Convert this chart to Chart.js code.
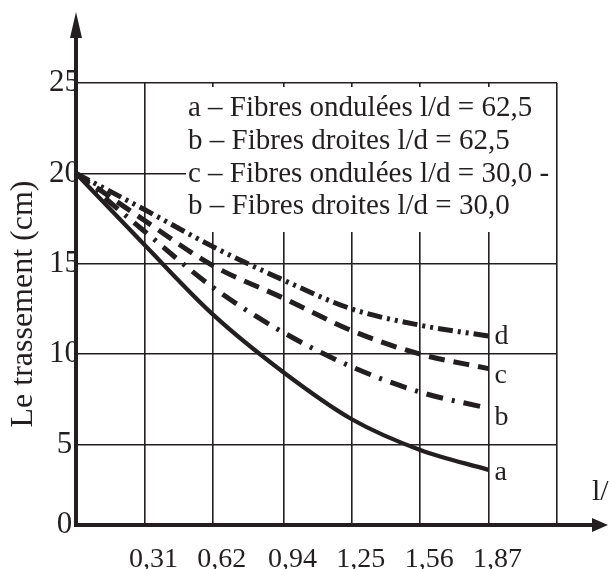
<!DOCTYPE html>
<html>
<head>
<meta charset="utf-8">
<script src="https://cdn.jsdelivr.net/npm/chart.js@4.4.1/dist/chart.umd.min.js"></script>
<style>
  html, body { margin: 0; padding: 0; background: #fff; }
  #wrap { width: 609px; height: 569px; }
</style>
</head>
<body>
<div id="wrap"><canvas id="settleChart" width="609" height="569"></canvas></div>
<script>
/* =========================
   DATA
========================= */

const lengthRatio = [0, 0.31, 0.62, 0.94, 1.25, 1.56, 1.87];

const curveA = [20, 16.05, 12.2, 9.0, 6.4, 4.7, 3.6];
const curveB = [20, 16.8, 13.7, 11.2, 9.3, 7.9, 7.0];
const curveC = [20, 17.4, 14.9, 13.1, 11.3, 10.0, 9.2];
const curveD = [20, 18.0, 15.95, 14.1, 12.5, 11.6, 11.0];

const legendLines = [
  "a – Fibres ondulées l/d = 62,5",
  "b – Fibres droites l/d = 62,5",
  "c – Fibres ondulées l/d = 30,0 -",
  "b – Fibres droites l/d = 30,0"
];
const curveTags = ["a", "b", "c", "d"];

const xTicks = [0.31, 0.62, 0.94, 1.25, 1.56, 1.87, 2.18];
const xTickLabels = ["0,31", "0,62", "0,94", "1,25", "1,56", "1,87", ""];
// the drawn x axis sits a little above zero in the original figure
const yTicks = [0.55, 5, 10, 15, 20, 25];
const yTickLabels = ["0", "5", "10", "15", "20", "25"];

/* =========================
   STYLE
========================= */

const INK = "#231f20";
const SERIF = "'Liberation Serif', 'Times New Roman', serif";
const tagDy = [10, 17, 14, 8];

Chart.defaults.font.family = SERIF;
Chart.defaults.color = INK;

function series(values) {
  return lengthRatio.map((x, i) => ({ x: x, y: values[i] }));
}

/* =========================
   DECORATION PLUGIN
========================= */

const figureDecor = {
  id: "figureDecor",
  beforeDatasetsDraw(chart) {
    const { ctx, chartArea } = chart;
    const boxLeft = chartArea.left + 110;
    const boxTop = chartArea.top + 4;
    ctx.save();
    ctx.fillStyle = "#fff";
    ctx.fillRect(boxLeft, boxTop, chartArea.right - 1 - boxLeft, 145);
    ctx.fillStyle = INK;
    ctx.font = "29px " + SERIF;
    ctx.textAlign = "left";
    ctx.textBaseline = "alphabetic";
    legendLines.forEach((t, i) => {
      ctx.fillText(t, boxLeft + 2, chartArea.top + 33 + i * 32.8);
    });
    ctx.restore();
  },
  afterDatasetsDraw(chart) {
    const { ctx } = chart;
    ctx.save();
    ctx.fillStyle = INK;
    ctx.font = "28px " + SERIF;
    ctx.textAlign = "left";
    ctx.textBaseline = "alphabetic";
    chart.data.datasets.forEach((ds, i) => {
      const pts = chart.getDatasetMeta(i).data;
      const p = pts[pts.length - 1];
      ctx.fillText(curveTags[i], p.x + 6, p.y + tagDy[i]);
    });
    ctx.restore();
  },
  afterDraw(chart) {
    const { ctx, chartArea, width } = chart;
    const ax = chartArea.left;
    const ay = chartArea.bottom;
    ctx.save();
    ctx.strokeStyle = INK;
    ctx.fillStyle = INK;
    ctx.lineWidth = 4;
    // y axis up to the arrow
    ctx.beginPath();
    ctx.moveTo(ax, chartArea.top + 1);
    ctx.lineTo(ax, 34);
    ctx.stroke();
    ctx.beginPath();
    ctx.moveTo(ax, 12);
    ctx.lineTo(ax - 6, 38);
    ctx.lineTo(ax + 6, 38);
    ctx.closePath();
    ctx.fill();
    // x axis out to the arrow
    ctx.beginPath();
    ctx.moveTo(chartArea.right - 1, ay);
    ctx.lineTo(width - 14, ay);
    ctx.stroke();
    ctx.beginPath();
    ctx.moveTo(width - 1, ay);
    ctx.lineTo(width - 17, ay - 7);
    ctx.lineTo(width - 17, ay + 7);
    ctx.closePath();
    ctx.fill();
    // cut-off axis title
    ctx.font = "30px " + SERIF;
    ctx.textAlign = "left";
    ctx.fillText("l/", width - 17, ay - 25);
    ctx.restore();
  }
};

/* =========================
   CHART
========================= */

const common = {
  borderColor: INK,
  pointRadius: 0,
  fill: false,
  cubicInterpolationMode: "monotone",
  borderCapStyle: "butt"
};

new Chart(document.getElementById("settleChart"), {
  type: "line",
  data: {
    datasets: [
      { ...common, label: legendLines[0], data: series(curveA), borderWidth: 4.2 },
      { ...common, label: legendLines[1], data: series(curveB), borderWidth: 5, borderDash: [17, 9, 3, 9] },
      { ...common, label: legendLines[2], data: series(curveC), borderWidth: 5, borderDash: [16, 9] },
      { ...common, label: legendLines[3], data: series(curveD), borderWidth: 5, borderDash: [15, 5, 3, 5, 3, 5] }
    ]
  },
  options: {
    responsive: false,
    animation: false,
    layout: { padding: { left: 0, top: 83, right: 52, bottom: 0 } },
    plugins: {
      legend: { display: false },
      tooltip: { enabled: false }
    },
    scales: {
      x: {
        type: "linear",
        min: 0,
        max: 2.18,
        afterBuildTicks: s => { s.ticks = xTicks.map(v => ({ value: v })); },
        afterFit: s => { s.height = 44; },
        grid: { color: INK, lineWidth: 1.6, drawTicks: false },
        border: { color: INK, width: 4 },
        ticks: {
          autoSkip: false,
          maxRotation: 0,
          font: { size: 28 },
          color: INK,
          padding: 18,
          labelOffset: 9,
          callback: (v, i) => xTickLabels[i]
        }
      },
      y: {
        type: "linear",
        min: 0.55,
        max: 25,
        afterBuildTicks: s => { s.ticks = yTicks.map(v => ({ value: v })); },
        afterFit: s => { s.width = 76; },
        grid: { color: INK, lineWidth: 1.6, drawTicks: false },
        border: { color: INK, width: 4 },
        ticks: {
          font: { size: 31 },
          color: INK,
          padding: -4,
          crossAlign: "center",
          callback: (v, i) => yTickLabels[i]
        },
        title: {
          display: true,
          text: "Le trassement (cm)",
          font: { size: 32 },
          color: INK,
          padding: { top: 4, bottom: 0 }
        }
      }
    }
  },
  plugins: [figureDecor]
});
</script>
</body>
</html>
